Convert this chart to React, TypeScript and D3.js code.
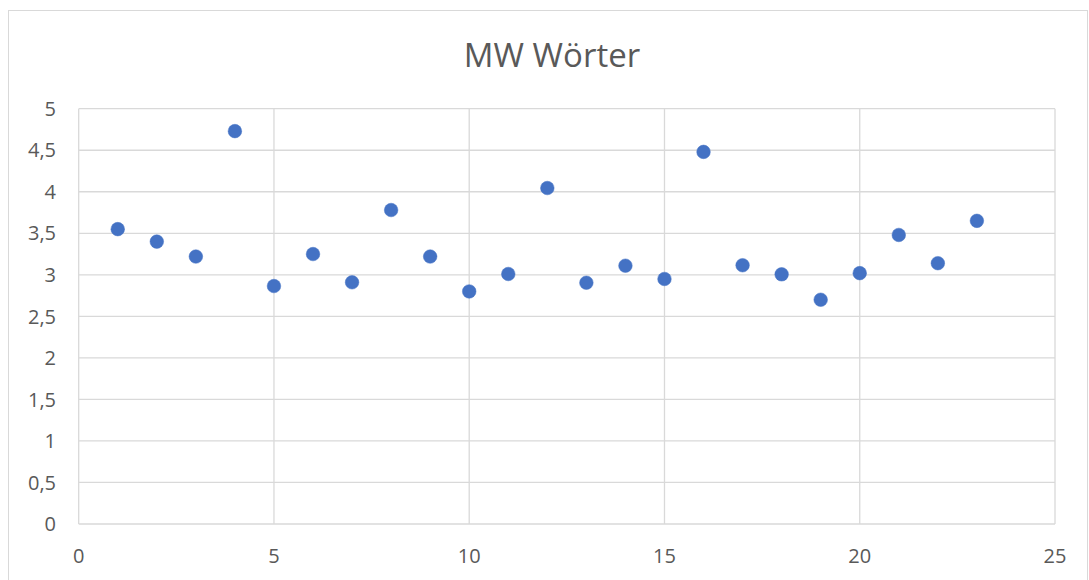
import React, { useEffect, useRef } from "react";
import * as d3 from "d3";

const title = "MW Wörter";
const xValues = [1, 2, 3, 4, 5, 6, 7, 8, 9, 10, 11, 12, 13, 14, 15, 16, 17, 18, 19, 20, 21, 22, 23];
const yValues = [3.55, 3.4, 3.22, 4.73, 2.865, 3.25, 2.91, 3.78, 3.22, 2.8, 3.01, 4.045, 2.905, 3.11, 2.95, 4.48, 3.115, 3.006, 2.7, 3.02, 3.48, 3.14, 3.65];
const xTicks = [0, 5, 10, 15, 20, 25];
const yTicks = [0, 0.5, 1, 1.5, 2, 2.5, 3, 3.5, 4, 4.5, 5];

const W = 1089;
const H = 580;
const FONT = "'Open Sans', 'Liberation Sans', sans-serif";

export default function App() {
  const svgRef = useRef<SVGSVGElement>(null);

  useEffect(() => {
    const svg = d3.select(svgRef.current);
    svg.selectAll("*").remove();

    const x = d3.scaleLinear().domain([0, 25]).range([78.7, 1055]);
    const y = d3.scaleLinear().domain([0, 5]).range([524, 108.7]);

    svg.append("rect").attr("width", W).attr("height", H).attr("fill", "#fff");

    // chart frame
    svg
      .append("rect")
      .attr("x", 8.5)
      .attr("y", 10.5)
      .attr("width", 1079)
      .attr("height", 600)
      .attr("fill", "none")
      .attr("stroke", "#d9d9d9");

    svg
      .append("text")
      .attr("x", 552)
      .attr("y", 67)
      .attr("text-anchor", "middle")
      .attr("fill", "#595959")
      .style("font-family", FONT)
      .style("font-size", "33px")
      .text(title);

    // grid
    svg
      .append("g")
      .selectAll("line")
      .data(yTicks)
      .join("line")
      .attr("x1", x(0))
      .attr("x2", x(25))
      .attr("y1", (d) => y(d))
      .attr("y2", (d) => y(d))
      .attr("stroke", "#d9d9d9")
      .attr("stroke-width", 1.3);

    svg
      .append("g")
      .selectAll("line")
      .data(xTicks)
      .join("line")
      .attr("x1", (d) => x(d))
      .attr("x2", (d) => x(d))
      .attr("y1", y(0))
      .attr("y2", y(5))
      .attr("stroke", "#d9d9d9")
      .attr("stroke-width", 1.3);

    const fmt = (d: number) => String(d).replace(".", ",");

    // y labels
    svg
      .append("g")
      .selectAll("text")
      .data(yTicks)
      .join("text")
      .attr("x", 56)
      .attr("y", (d) => y(d))
      .attr("dy", "0.36em")
      .attr("text-anchor", "end")
      .attr("fill", "#595959")
      .style("font-family", FONT)
      .style("font-size", "20px")
      .text(fmt);

    // x labels
    svg
      .append("g")
      .selectAll("text")
      .data(xTicks)
      .join("text")
      .attr("x", (d) => x(d))
      .attr("y", 563)
      .attr("text-anchor", "middle")
      .attr("fill", "#595959")
      .style("font-family", FONT)
      .style("font-size", "20px")
      .text(fmt);

    // points
    svg
      .append("g")
      .selectAll("circle")
      .data(xValues)
      .join("circle")
      .attr("cx", (d) => x(d))
      .attr("cy", (d, i) => y(yValues[i]))
      .attr("r", 6.8)
      .attr("fill", "#4472C4")
      .attr("stroke", "#4472C4")
      .attr("stroke-width", 0.5);
  }, []);

  return (
    <svg
      ref={svgRef}
      width={W}
      height={H}
      style={{ position: "absolute", left: 0, top: 0, display: "block" }}
    />
  );
}
